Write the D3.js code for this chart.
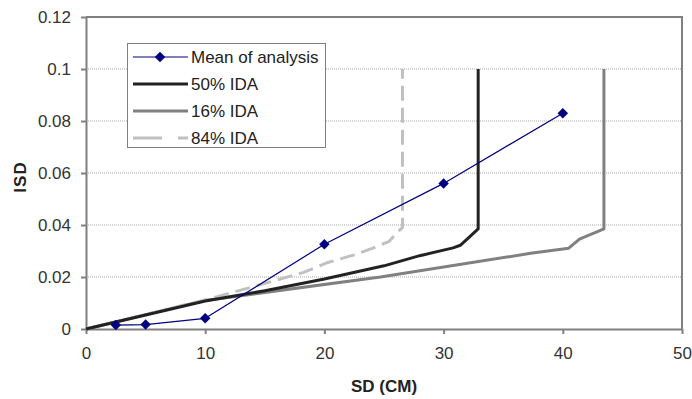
<!DOCTYPE html>
<meta charset="utf-8">
<style>
body { margin: 0; background: #fff; }
svg { font-family: "Liberation Sans", Arial, sans-serif; }
.grid line { stroke: #a8a8a8; stroke-dasharray: 1,1; }
.axis path, .axis line { stroke: #808080; stroke-width: 2px; }
.axis text { font-size: 17px; fill: #333; }
</style>
<body>
<svg width="692" height="399"></svg>
<script src="https://cdn.jsdelivr.net/npm/d3@7"></script>
<script>

// Mean of analysis (markers)
var meanX = [2.5, 5, 10, 20, 30, 40];
var meanY = [0.0015, 0.0017, 0.0041, 0.0326, 0.056, 0.083];

// 50% IDA
var ida50X = [0, 10, 15, 20, 25, 28, 30.8, 31.4, 32.2, 32.9, 32.9];
var ida50Y = [0, 0.0108, 0.0147, 0.0192, 0.0243, 0.0282, 0.0312, 0.0322, 0.0355, 0.0385, 0.1];

// 16% IDA
var ida16X = [0, 10, 24.7, 37.3, 40.5, 41.4, 43.45, 43.45];
var ida16Y = [0, 0.011, 0.020, 0.0291, 0.0311, 0.0346, 0.0385, 0.1];

// 84% IDA
var ida84X = [0, 5, 11, 14.6, 18.2, 20.3, 22.5, 24, 25.4, 26.2, 26.55, 26.55];
var ida84Y = [0, 0.0055, 0.0124, 0.017, 0.0217, 0.0256, 0.0285, 0.031, 0.0336, 0.0376, 0.039, 0.1];

var xTicks = [0, 10, 20, 30, 40, 50];
var yTicks = [0, 0.02, 0.04, 0.06, 0.08, 0.1, 0.12];
var legendNames = ["Mean of analysis", "50% IDA", "16% IDA", "84% IDA"];

var svg = d3.select("svg");
var m = {left: 86, right: 682, top: 17, bottom: 329};

var x = d3.scaleLinear().domain([0, 50]).range([m.left, m.right]);
var y = d3.scaleLinear().domain([0, 0.12]).range([m.bottom, m.top]);

// gridlines
svg.append("g").attr("class", "grid")
  .selectAll("line").data(yTicks.filter(d => d > 0 && d < 0.12))
  .enter().append("line")
    .attr("x1", m.left).attr("x2", m.right)
    .attr("y1", d => y(d)).attr("y2", d => y(d));

// frame (top + right)
svg.append("path")
  .attr("d", "M" + m.left + "," + m.top + "H" + m.right + "V" + m.bottom)
  .attr("fill", "none").attr("stroke", "#808080").attr("stroke-width", 2);

svg.append("g").attr("class", "axis")
  .attr("transform", "translate(0," + m.bottom + ")")
  .call(d3.axisBottom(x).tickValues(xTicks).tickSize(5).tickPadding(13).tickSizeOuter(0));

svg.append("g").attr("class", "axis")
  .attr("transform", "translate(" + m.left + ",0)")
  .call(d3.axisLeft(y).tickValues(yTicks).tickSize(5).tickPadding(10).tickSizeOuter(0)
        .tickFormat(d => d === 0 ? "0" : String(+d.toFixed(2))));

svg.append("text")
  .attr("x", x(25)).attr("y", 392)
  .attr("text-anchor", "middle")
  .attr("font-size", 17).attr("font-weight", "bold").attr("fill", "#222")
  .text("SD (CM)");

svg.append("text")
  .attr("transform", "translate(26,177) rotate(-90)")
  .attr("text-anchor", "middle")
  .attr("font-size", 17).attr("font-weight", "bold").attr("fill", "#222")
  .attr("letter-spacing", 1)
  .text("ISD");

var line = d3.line().x(d => x(d[0])).y(d => y(d[1]));
function pts(xs, ys) { return xs.map((v, i) => [v, ys[i]]); }

var series = [
  {pts: pts(ida16X, ida16Y), color: "#808080", w: 3, dash: null},
  {pts: pts(ida84X, ida84Y), color: "#c0c0c0", w: 3, dash: "15,7"},
  {pts: pts(ida50X, ida50Y), color: "#222", w: 3, dash: null},
  {pts: pts(meanX, meanY), color: "#000080", w: 1.2, dash: null}
];

series.forEach(s => {
  svg.append("path")
    .attr("d", line(s.pts))
    .attr("fill", "none")
    .attr("stroke", s.color)
    .attr("stroke-width", s.w)
    .attr("stroke-dasharray", s.dash)
    .attr("stroke-linejoin", "round");
});

var diamond = d3.symbol().type(d3.symbolDiamond2).size(70);
svg.selectAll(".mk").data(pts(meanX, meanY))
  .enter().append("path")
    .attr("class", "mk")
    .attr("d", diamond)
    .attr("transform", d => "translate(" + x(d[0]) + "," + y(d[1]) + ")")
    .attr("fill", "#000080");

// legend
var lg = svg.append("g");
lg.append("rect")
  .attr("x", 127.5).attr("y", 43.5).attr("width", 198).attr("height", 104)
  .attr("fill", "#fff").attr("stroke", "#808080");

var legStyles = [
  {color: "#000080", w: 1.2, dash: null, marker: true},
  {color: "#222", w: 3, dash: null},
  {color: "#808080", w: 3, dash: null},
  {color: "#c0c0c0", w: 3, dash: "29,16"}
];

legendNames.forEach((name, i) => {
  var yy = 57 + i * 27;
  var st = legStyles[i];
  lg.append("line")
    .attr("x1", 133).attr("x2", 188).attr("y1", yy).attr("y2", yy)
    .attr("stroke", st.color).attr("stroke-width", st.w)
    .attr("stroke-dasharray", st.dash);
  if (st.marker) {
    lg.append("path").attr("d", diamond)
      .attr("transform", "translate(160," + yy + ")")
      .attr("fill", "#000080");
  }
  lg.append("text")
    .attr("x", 191).attr("y", yy + 6)
    .attr("font-size", 17).attr("fill", "#222")
    .text(name);
});

</script>
</body>
